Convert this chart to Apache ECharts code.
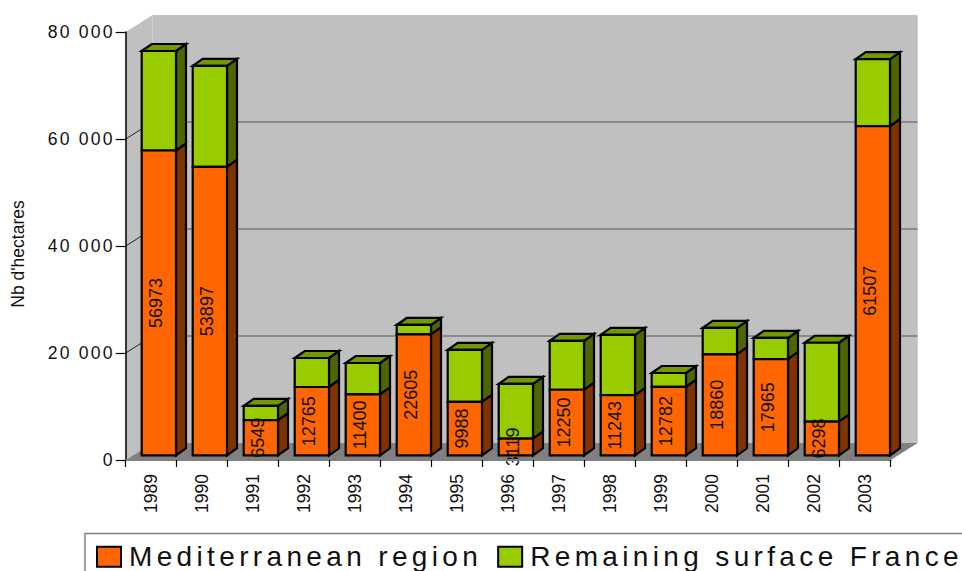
<!DOCTYPE html>
<html>
<head>
<meta charset="utf-8">
<style>
html,body{margin:0;padding:0;background:#fff;overflow:hidden}
#c{width:962px;height:571px}
text[style*=" 28px"]{letter-spacing:4.35px}
text[style*=" 17.6px"]{letter-spacing:2.2px}
</style>
<script src="https://cdn.jsdelivr.net/npm/echarts@6/dist/echarts.min.js"></script>
</head>
<body>
<div id="c"></div>
<script>
const years = ['1989','1990','1991','1992','1993','1994','1995','1996','1997','1998','1999','2000','2001','2002','2003'];
const mediterranean = [56973,53897,6549,12765,11400,22605,9988,3119,12250,11243,12782,18860,17965,6298,61507];
const remaining = [18600,18900,2700,5425,5850,1755,9700,10240,9150,11250,2600,4940,3965,14740,12560];
const yTicks = {0:'0',20000:'20 000',40000:'40 000',60000:'60 000',80000:'80 000'};
const gridValues = [20000,40000,60000];

const WALL_DX = 27, WALL_DY = 17;
const BAR_DX = 10, BAR_DY = 7, BAR_LEFT = 16, BAR_W = 34.3, BAR_FLOOR = 4.7;
const FONT = 'Liberation Sans, Arial, sans-serif';

function poly(points, fill, stroke){
  return {type:'polygon', shape:{points},
    style:{fill, stroke: stroke==='none'?null:'#000', lineWidth: stroke==='none'?0:2.2, lineJoin:'miter'}};
}
function barItem(base, values, front, side, top, showLabel){
  return function(params, api){
    const i = params.dataIndex;
    const v = api.value(1);
    const start = base ? base[i] : 0;
    const band = api.size([1,0])[0];
    const c0 = api.coord([i, start]);
    const c1 = api.coord([i, start + v]);
    const x0 = c0[0] - band/2 + BAR_LEFT, x1 = x0 + BAR_W;
    const y0 = c0[1] - BAR_FLOOR, y1 = c1[1] - BAR_FLOOR;
    const children = [poly([[x1,y1],[x1+BAR_DX,y1-BAR_DY],[x1+BAR_DX,y0-BAR_DY],[x1,y0]], side)];
    if (top) children.push(poly([[x0,y1],[x0+BAR_DX,y1-BAR_DY],[x1+BAR_DX,y1-BAR_DY],[x1,y1]], top));
    children.push(poly([[x0,y0],[x0,y1],[x1,y1],[x1,y0]], front));
    if (showLabel) {
      children.push({type:'text', x:(x0+x1)/2-3, y:(y0+y1)/2, rotation:Math.PI/2,
        style:{text:String(v), fill:'#111', font:'18px '+FONT, align:'center', verticalAlign:'middle'}, z2:10});
    }
    return {type:'group', children};
  };
}
function wallItem(params, api){
  const p0 = api.coord([0,0]), band = api.size([1,0])[0];
  const xL = p0[0]-band/2, xR = api.coord([years.length-1,0])[0]+band/2;
  const yB = p0[1], yT = api.coord([0,80000])[1];
  const dx = WALL_DX, dy = WALL_DY;
  const children = [
    poly([[xL,yT],[xL+dx,yT-dy],[xL+dx,yB-dy],[xL,yB]], '#c0c0c0', 'none'),
    poly([[xL+dx,yT-dy],[xR+dx,yT-dy],[xR+dx,yB-dy],[xL+dx,yB-dy]], '#c0c0c0', 'none'),
    poly([[xL,yB],[xL+dx,yB-dy],[xR+dx,yB-dy],[xR,yB]], '#808080', 'none')
  ];
  gridValues.forEach(g=>{
    const y = api.coord([0,g])[1];
    children.push({type:'line', shape:{x1:xL,y1:y,x2:xL+dx,y2:y-dy}, style:{stroke:'#222',lineWidth:1}});
    children.push({type:'line', shape:{x1:xL+dx,y1:y-dy,x2:xR+dx,y2:y-dy}, style:{stroke:'#555',lineWidth:1.2}});
  });
  return {type:'group', children};
}

const chart = echarts.init(document.getElementById('c'), null, {renderer:'svg'});
chart.setOption({
  animation:false,
  backgroundColor:'#fff',
  textStyle:{fontFamily:FONT},
  grid:{left:125.7, right:71.3, top:32, bottom:111, containLabel:false, outerBoundsMode:'none'},
  xAxis:{type:'category', data:years, z:5,
    axisLine:{lineStyle:{color:'#808080',width:2}},
    axisTick:{show:true,length:7,lineStyle:{color:'#000',width:1.2}},
    axisLabel:{rotate:90, margin:14, color:'#111', fontSize:17.5, fontFamily:FONT, interval:0}
  },
  yAxis:{type:'value', min:0, max:80000, interval:20000, z:5,
    name:"Nb d'hectares", nameLocation:'middle', nameRotate:90, nameGap:99,
    nameTextStyle:{fontSize:17.5, color:'#111', fontFamily:FONT, padding:[0,16,0,0]},
    axisLine:{show:true,lineStyle:{color:'#000',width:1.5}},
    axisTick:{show:true,length:10,lineStyle:{color:'#000',width:1.2}},
    splitLine:{show:false},
    axisLabel:{margin:11, color:'#111', fontSize:17.6, fontFamily:FONT, formatter:v=>yTicks[v]}
  },
  legend:{left:96, top:542.7, itemWidth:24, itemHeight:20, itemGap:102, padding:0,
    textStyle:{fontSize:28, color:'#111', fontFamily:FONT, padding:[0,0,0,3]},
    data:[
      {name:'Mediterranean region', icon:'rect', itemStyle:{color:'#ff6600',borderColor:'#000',borderWidth:2}},
      {name:'Remaining surface France', icon:'rect', itemStyle:{color:'#99cc00',borderColor:'#000',borderWidth:2}}
    ]},
  graphic:[{type:'rect', z:-1, shape:{x:85,y:533.5,width:900,height:60}, style:{fill:'none',stroke:'#808080',lineWidth:1.5}}],
  series:[
    {type:'custom', name:'walls', z:1, silent:true, renderItem:wallItem, data:[[0,0]], clip:false},
    {type:'custom', name:'Remaining surface France', z:2, clip:false, itemStyle:{color:'#99cc00'},
      renderItem:barItem(mediterranean, remaining, '#99cc00', '#4d6600', '#739900', false),
      data:remaining.map((v,i)=>[i,v])},
    {type:'custom', name:'Mediterranean region', z:3, clip:false, itemStyle:{color:'#ff6600'},
      renderItem:barItem(null, mediterranean, '#ff6600', '#803300', null, true),
      data:mediterranean.map((v,i)=>[i,v])}
  ]
});
</script>
</body>
</html>
